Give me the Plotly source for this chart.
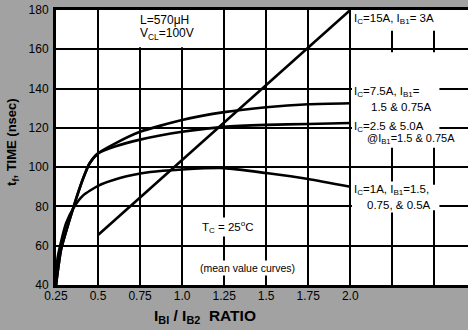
import plotly.graph_objects as go

# ---- data ----
x_15A = [0.5, 2.0]
y_15A = [65.5, 180]

x_75A = [0.25, 0.28, 0.33, 0.37, 0.41, 0.45, 0.5, 0.6, 0.75, 1.0, 1.25, 1.5, 1.75, 2.0]
y_75A = [40, 58, 73, 84, 94, 102, 107, 112, 118, 124, 128, 130.5, 132, 132.5]

x_25A = [0.25, 0.28, 0.33, 0.37, 0.41, 0.45, 0.5, 0.6, 0.75, 1.0, 1.25, 1.5, 1.75, 2.0]
y_25A = [40, 58, 73, 84, 94, 102, 107, 110.5, 114, 118, 120.5, 121.5, 122, 122.5]

x_1A = [0.25, 0.26, 0.31, 0.36, 0.41, 0.5, 0.63, 0.81, 1.0, 1.25, 1.5, 1.75, 2.0]
y_1A = [40, 54, 71.5, 80, 85.5, 90.5, 94.5, 97.5, 98.8, 99.5, 97, 94, 90]

x_tickvals = [0.25, 0.5, 0.75, 1.0, 1.25, 1.5, 1.75, 2.0, 2.25, 2.5]
x_ticktext = ["0.25", "0.5", "0.75", "1.0", "1.25", "1.5", "1.75", "2.0", "", ""]
y_tickvals = [40, 60, 80, 100, 120, 140, 160, 180]

FONT = "Liberation Sans, Arial, sans-serif"
LW = 2.6

fig = go.Figure()
for xs, ys, sm in [(x_15A, y_15A, 0), (x_75A, y_75A, 0.6), (x_25A, y_25A, 0.6), (x_1A, y_1A, 0.6)]:
    fig.add_trace(go.Scatter(
        x=xs, y=ys, mode="lines",
        line=dict(color="black", width=LW, shape="spline" if sm else "linear", smoothing=sm or None),
        showlegend=False, hoverinfo="skip"))

# white blocks that break the grid behind the labels
white_blocks = [
    (0.52, 1.2, 161, 180),
    (2.01, 2.62, 169.5, 180),
    (2.01, 2.53, 110, 158.5),
    (2.01, 2.53, 78, 91),
]
for x0, x1, y0, y1 in white_blocks:
    fig.add_shape(type="rect", x0=x0, x1=x1, y0=y0, y1=y1, xref="x", yref="y",
                  fillcolor="white", line=dict(width=0), layer="between")

def ann(text, x, y, xanchor="left", size=11.5, bg="white"):
    fig.add_annotation(text=text, x=x, y=y, xref="x", yref="y", xanchor=xanchor,
                       yanchor="middle", showarrow=False, align="left",
                       font=dict(family=FONT, size=size, color="black"),
                       bgcolor=bg, borderpad=1)

ann("L=570\u03bcH", 0.74, 175.0, size=12, bg=None)
ann("V<sub>CL</sub>=100V", 0.74, 167.6, size=12, bg=None)
ann("I<sub>C</sub>=15A, I<sub>B1</sub>= 3A", 2.01, 175.5)
ann("I<sub>C</sub>=7.5A, I<sub>B1</sub>=", 2.01, 138.5)
ann("1.5 & 0.75A", 2.11, 130.5)
ann("I<sub>C</sub>=2.5 & 5.0A", 2.01, 120.5)
ann("@I<sub>B1</sub>=1.5 & 0.75A", 2.09, 114.3, size=11)
ann("I<sub>C</sub>=1A, I<sub>B1</sub>=1.5,", 2.01, 88.5)
ann("0.75, & 0.5A", 2.09, 80.8)
ann("T<sub>C</sub> = 25<sup>o</sup>C", 1.27, 69.5, xanchor="center")
ann("(mean value curves)", 1.39, 48.7, xanchor="center", size=10.5)

# axis titles
fig.add_annotation(text="<b>t<sub>f</sub>, TIME (nsec)</b>", x=-0.107, y=0.52, xref="paper", yref="paper",
                   xanchor="center", yanchor="middle",
                   textangle=-90, showarrow=False, font=dict(family=FONT, size=13, color="black"))
fig.add_annotation(text="<b>I<sub>BI</sub> / I<sub>B2</sub>  RATIO</b>", x=0.362, y=-0.115,
                   xref="paper", yref="paper", showarrow=False, xanchor="center", yanchor="middle",
                   font=dict(family=FONT, size=15.5, color="black"))

fig.update_xaxes(range=[0.25, 2.70], tickvals=x_tickvals, ticktext=x_ticktext,
                 showgrid=True, gridcolor="black", gridwidth=2, zeroline=False,
                 showline=True, linecolor="black", linewidth=3, mirror=True, ticks="",
                 ticklabelstandoff=-2,
                 tickfont=dict(family=FONT, size=12, color="black"))
fig.update_yaxes(range=[40, 180], tickvals=y_tickvals,
                 showgrid=True, gridcolor="black", gridwidth=2, zeroline=False,
                 showline=True, linecolor="black", linewidth=3, ticks="",
                 ticklabelstandoff=2,
                 tickfont=dict(family=FONT, size=12, color="black"))

fig.update_layout(width=468, height=330, margin=dict(l=56, r=0, t=10, b=45),
                  paper_bgcolor="#a2a2a2", plot_bgcolor="white", showlegend=False)

fig.write_html("out.html", config={"displayModeBar": False},
               post_script="document.body.style.margin='0';document.body.style.overflow='hidden';")
